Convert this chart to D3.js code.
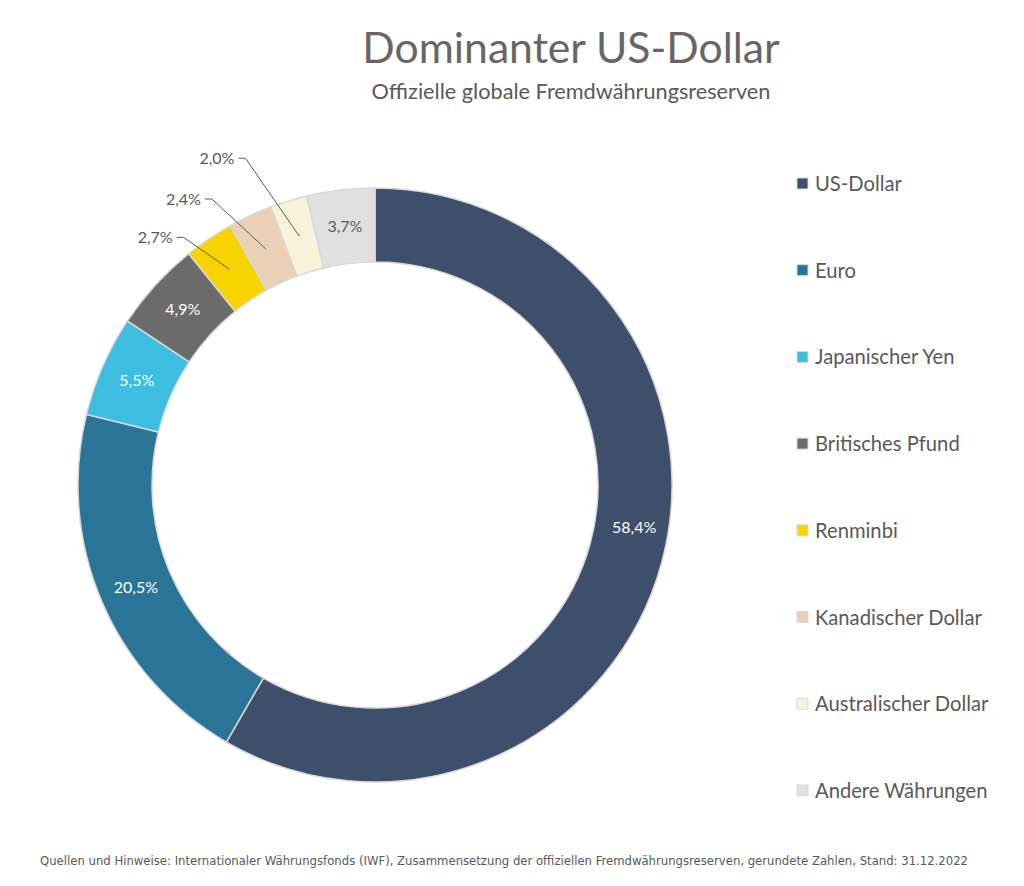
<!DOCTYPE html>
<html><head><meta charset="utf-8">
<script src="https://cdn.jsdelivr.net/npm/d3@7"></script>
<style>
html,body{margin:0;padding:0;background:#fff;}
svg{display:block;}
</style></head>
<body>
<script>
const categories = ["US-Dollar","Euro","Japanischer Yen","Britisches Pfund","Renminbi","Kanadischer Dollar","Australischer Dollar","Andere Währungen"];
const values = [58.4,20.5,5.5,4.9,2.7,2.4,2.0,3.7];
const labels = ["58,4%","20,5%","5,5%","4,9%","2,7%","2,4%","2,0%","3,7%"];
const colors = ["#3d4f6b","#2a7497","#3dbde0","#6b6b6b","#f7d400","#e9d0b7","#faf3dc","#e0e0e0"];
const title = "Dominanter US-Dollar";
const subtitle = "Offizielle globale Fremdwährungsreserven";
const footer = "Quellen und Hinweise: Internationaler Währungsfonds (IWF), Zusammensetzung der offiziellen Fremdwährungsreserven, gerundete Zahlen, Stand: 31.12.2022";

// label placement config (not data)
const labelColor = ["#fff","#fff","#fff","#fff","#595959","#595959","#595959","#595959"];
const outside = {4:[-53,-32],5:[-61,-50],6:[-61,-78]};
const inNudge = {0:[8,-25]};

const W=1024,H=886;
const font = "Lato, 'Open Sans', sans-serif";
const svg = d3.select("body").append("svg").attr("width",W).attr("height",H);

svg.append("text").attr("x",571).attr("y",63).attr("text-anchor","middle")
  .attr("font-family",font).attr("font-size",42.7).attr("fill","#666").text(title);
svg.append("text").attr("x",571).attr("y",99).attr("text-anchor","middle")
  .attr("font-family",font).attr("font-size",21.7).attr("fill","#595959").text(subtitle);

const cx=375, cy=485, rOut=297, rIn=223;
const g = svg.append("g").attr("transform",`translate(${cx},${cy})`);
const pie = d3.pie().sort(null).value(d=>d.v);
const data = categories.map((c,i)=>({c,v:values[i],i}));
const arcs = pie(data);
const arc = d3.arc().innerRadius(rIn).outerRadius(rOut);

g.selectAll("path").data(arcs).join("path")
  .attr("d",arc).attr("fill",(d,i)=>colors[i])
  .attr("stroke","#d9d9d9").attr("stroke-width",1.5);

arcs.forEach((d,i)=>{
  const [x,y] = arc.centroid(d);
  if(outside[i]){
    const [ox,oy]=outside[i];
    const lx=x+ox, ly=y+oy;
    g.append("path").attr("d",`M${lx},${ly}H${lx+7}L${x},${y}`)
      .attr("fill","none").attr("stroke","#595959").attr("stroke-width",1);
    g.append("text").attr("x",lx-4).attr("y",ly).attr("dy","0.35em")
      .attr("text-anchor","end").attr("font-family",font).attr("font-size",16)
      .attr("fill","#595959").text(labels[i]);
  } else {
    const n = inNudge[i]||[0,0];
    g.append("text").attr("x",x+n[0]).attr("y",y+n[1]).attr("dy","0.35em")
      .attr("text-anchor","middle").attr("font-family",font).attr("font-size",16)
      .attr("fill",labelColor[i]).text(labels[i]);
  }
});

// legend
const leg = svg.append("g");
const ly0=184, lstep=86.7;
categories.forEach((c,i)=>{
  const y = ly0 + i*lstep;
  leg.append("rect").attr("x",797).attr("y",y-6).attr("width",11).attr("height",11)
    .attr("fill",colors[i]).attr("stroke","#d9d9d9").attr("stroke-width",1);
  leg.append("text").attr("x",815).attr("y",y).attr("dy","0.35em")
    .attr("font-family",font).attr("font-size",20.2).attr("fill","#595959").text(c);
});

svg.append("text").attr("x",40).attr("y",865)
  .attr("font-family","'Liberation Sans Narrow','DejaVu Sans Condensed',sans-serif")
  .attr("font-size",13).attr("fill","#595959")
  .attr("textLength",928).attr("lengthAdjust","spacingAndGlyphs").text(footer);
</script>
</body></html>
